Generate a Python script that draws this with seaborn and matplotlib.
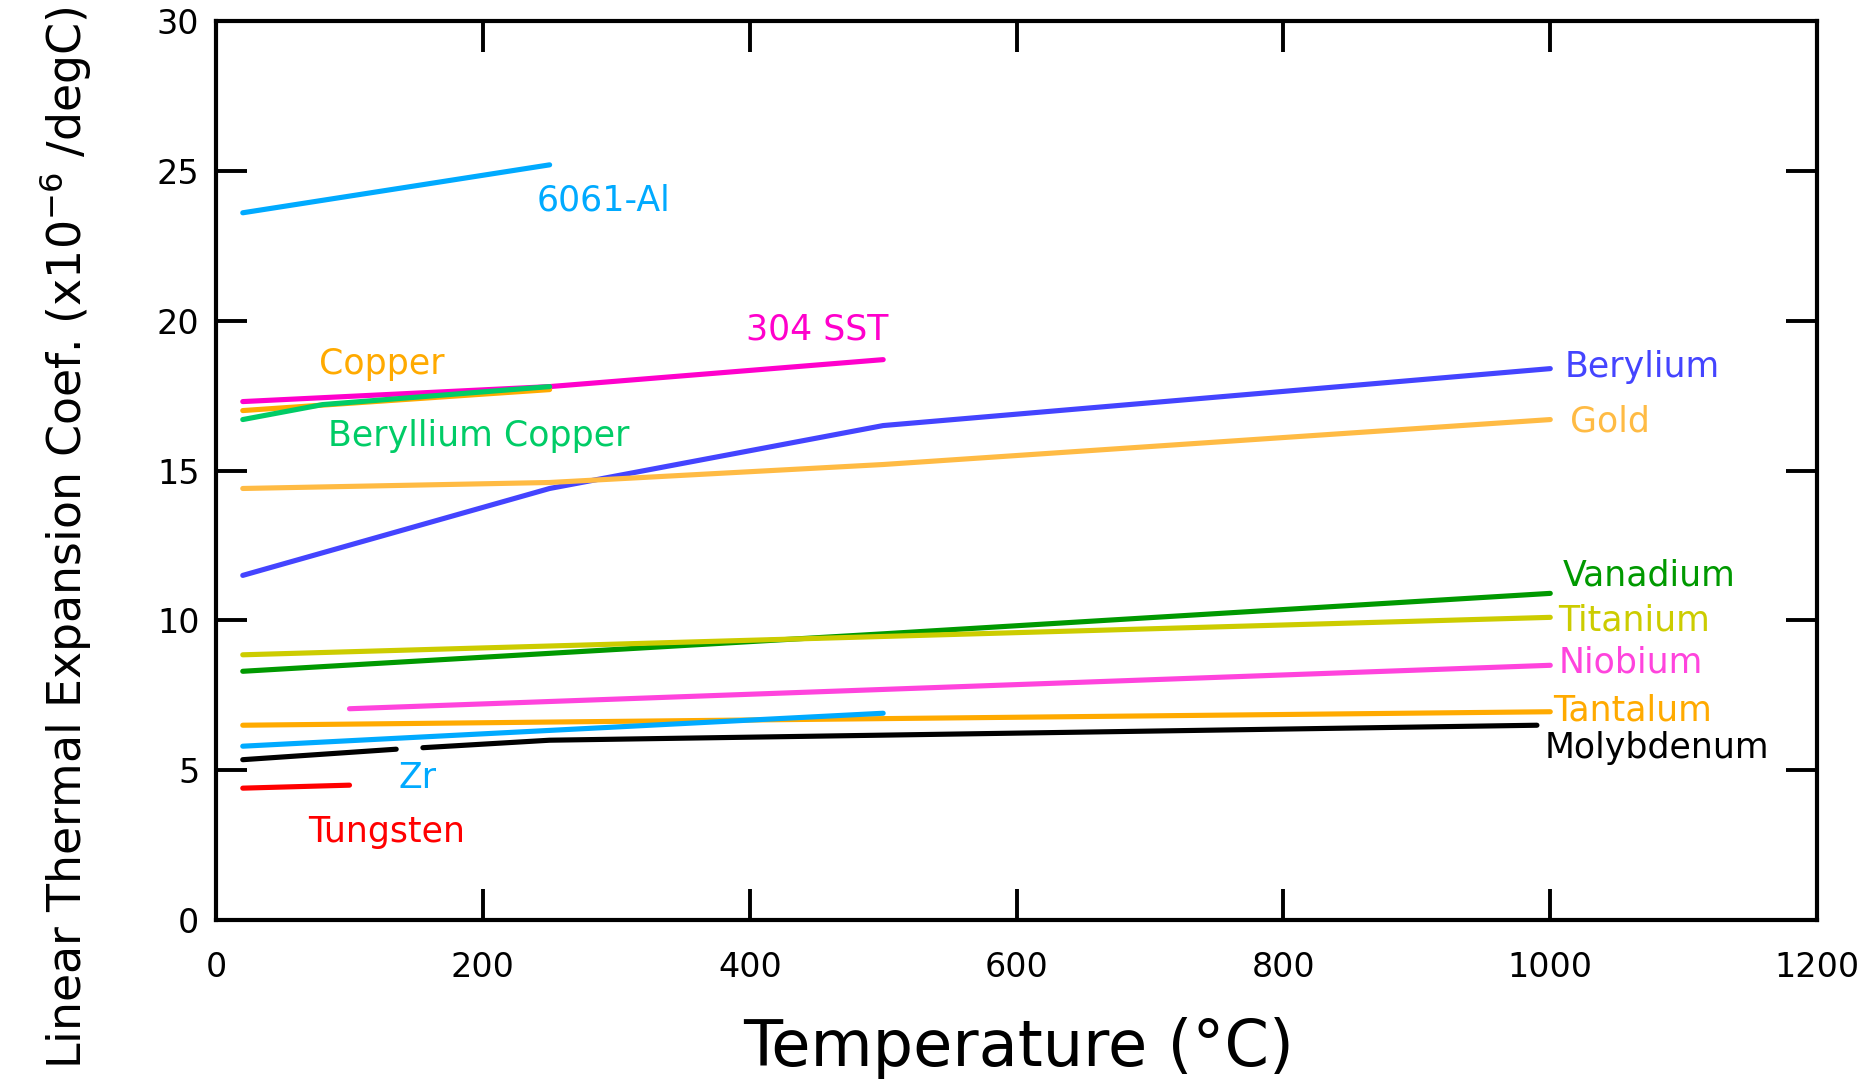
import numpy as np
import pandas as pd
import seaborn as sns
import matplotlib.pyplot as plt

# ----------- data -----------
al6061_t = [20, 250]
al6061_a = [23.6, 25.2]

sst304_t = [20, 250, 500]
sst304_a = [17.3, 17.8, 18.7]

copper_t = [20, 250]
copper_a = [17.0, 17.7]

becu_t = [20, 80, 250]
becu_a = [16.7, 17.2, 17.8]

berylium_t = [20, 250, 500, 1000]
berylium_a = [11.5, 14.4, 16.5, 18.4]

gold_t = [20, 250, 500, 1000]
gold_a = [14.4, 14.6, 15.2, 16.7]

vanadium_t = [20, 500, 1000]
vanadium_a = [8.3, 9.55, 10.9]

titanium_t = [20, 1000]
titanium_a = [8.85, 10.1]

niobium_t = [100, 1000]
niobium_a = [7.05, 8.5]

tantalum_t = [20, 1000]
tantalum_a = [6.5, 6.95]

zr_t = [20, 500]
zr_a = [5.8, 6.9]

moly1_t = [20, 135]
moly1_a = [5.35, 5.7]
moly2_t = [155, 250, 990]
moly2_a = [5.75, 6.0, 6.5]

tungsten_t = [20, 100]
tungsten_a = [4.4, 4.5]

x_ticks = [0, 200, 400, 600, 800, 1000, 1200]
y_ticks = [0, 5, 10, 15, 20, 25, 30]

# label text, position (temperature, coef), colour
labels = [
    ("6061-Al", 240, 24.0, "#00AAFF"),
    ("304 SST", 397, 19.7, "#FF00CC"),
    ("Copper", 77, 18.55, "#FFAA00"),
    ("Beryllium Copper", 84, 16.15, "#00CC66"),
    ("Berylium", 1011, 18.45, "#4444FF"),
    ("Gold", 1015, 16.65, "#FFBB44"),
    ("Vanadium", 1009, 11.5, "#009900"),
    ("Titanium", 1006, 10.0, "#CCCC00"),
    ("Niobium", 1006, 8.6, "#FF44DD"),
    ("Tantalum", 1002, 7.0, "#FFAA00"),
    ("Molybdenum", 996, 5.75, "black"),
    ("Zr", 137, 4.75, "#00AAFF"),
    ("Tungsten", 69, 2.95, "#FF0000"),
]

series = [
    (al6061_t, al6061_a, "#00AAFF"),
    (sst304_t, sst304_a, "#FF00CC"),
    (copper_t, copper_a, "#FFAA00"),
    (becu_t, becu_a, "#00CC66"),
    (berylium_t, berylium_a, "#4444FF"),
    (gold_t, gold_a, "#FFBB44"),
    (vanadium_t, vanadium_a, "#009900"),
    (titanium_t, titanium_a, "#CCCC00"),
    (niobium_t, niobium_a, "#FF44DD"),
    (tantalum_t, tantalum_a, "#FFAA00"),
    (zr_t, zr_a, "#00AAFF"),
    (moly1_t, moly1_a, "black"),
    (moly2_t, moly2_a, "black"),
    (tungsten_t, tungsten_a, "#FF0000"),
]

# ----------- plot -----------
sns.set_style("white")
plt.rcParams['font.family'] = ['DejaVu Sans']

fig = plt.figure(figsize=(18.66, 10.88), dpi=100)
ax = fig.add_axes([0.1158, 0.1544, 0.858, 0.8263])

for t, a, c in series:
    sns.lineplot(x=t, y=a, color=c, linewidth=3.7, ax=ax, legend=False)

for txt, x, y, c in labels:
    ax.text(x, y, txt, color=c, fontsize=25, va="center", ha="left")

ax.set_xlim(0, 1200)
ax.set_ylim(0, 30)
ax.set_xticks(x_ticks)
ax.set_yticks(y_ticks)
ax.tick_params(direction="in", top=True, right=True, bottom=True, left=True,
               length=22, width=2.8, labelsize=24, color="black", labelcolor="black")
ax.tick_params(axis="x", pad=22)
ax.tick_params(axis="y", pad=12)
for s in ax.spines.values():
    s.set_linewidth(3)
    s.set_color("black")

ax.set_xlabel("Temperature (°C)", fontsize=46, color="black")
ax.xaxis.set_label_coords(0.501, -0.108)
ax.set_ylabel("Linear Thermal Expansion Coef. (x10$^{-6}$ /degC)", fontsize=33, color="black")
ax.yaxis.set_label_coords(-0.077, 0.425)

fig.savefig("out.png", dpi=100)
